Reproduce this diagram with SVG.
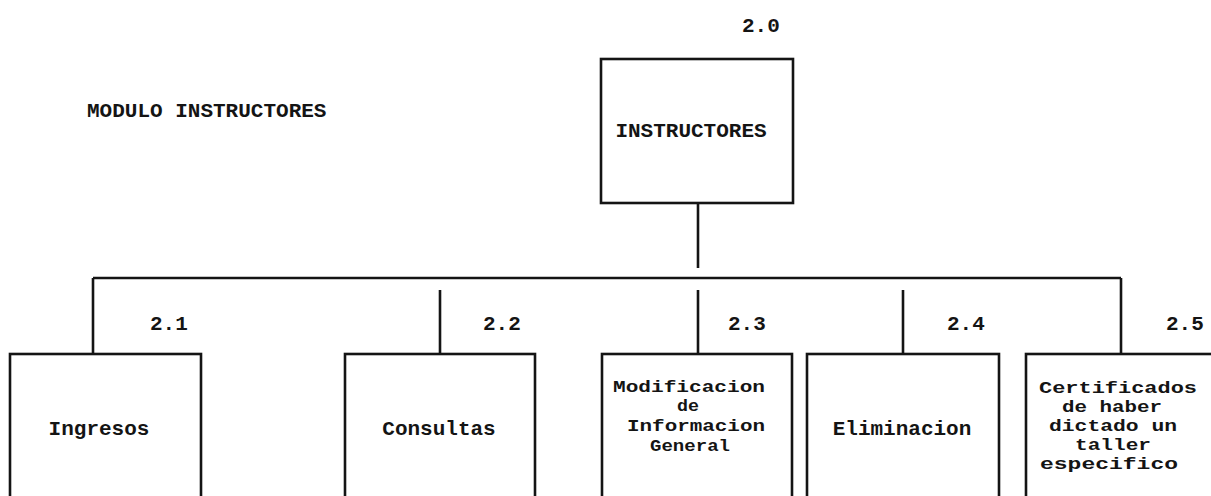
<svg xmlns="http://www.w3.org/2000/svg" width="1211" height="496" viewBox="0 0 1211 496">
<style>
.bg{fill:#ffffff}
.box{fill:none;stroke:#141414;stroke-width:2.6}
.ln{fill:none;stroke:#141414;stroke-width:2.6}
text{font-family:"Liberation Mono","DejaVu Sans Mono",monospace;font-size:21px;font-weight:bold;fill:#141414}
.c{text-anchor:middle}
.m{font-size:17px}
</style>
<rect class="bg" x="0" y="0" width="1211" height="496"/>
<text x="87" y="117">MODULO INSTRUCTORES</text>
<g id="connectors">
<line class="ln" x1="698" y1="203" x2="698" y2="268"/>
<line class="ln" x1="93" y1="278" x2="1121" y2="278"/>
<line class="ln" x1="93" y1="278" x2="93" y2="354"/>
<line class="ln" x1="440" y1="290" x2="440" y2="354"/>
<line class="ln" x1="698" y1="290" x2="698" y2="354"/>
<line class="ln" x1="903" y1="290" x2="903" y2="354"/>
<line class="ln" x1="1121" y1="278" x2="1121" y2="354"/>
</g>
<g id="n20">
<text x="742" y="32">2.0</text>
<rect class="box" x="601" y="59" width="192" height="144"/>
<text class="c" x="691" y="137">INSTRUCTORES</text>
</g>
<g id="n21">
<text x="150" y="330">2.1</text>
<rect class="box" x="10" y="354" width="191" height="160"/>
<text class="c" x="99" y="435">Ingresos</text>
</g>
<g id="n22">
<text x="483" y="330">2.2</text>
<rect class="box" x="345" y="354" width="190" height="160"/>
<text class="c" x="439" y="435">Consultas</text>
</g>
<g id="n23">
<text x="728" y="330">2.3</text>
<rect class="box" x="602" y="354" width="190" height="160"/>
<text class="c m" x="689" y="392" textLength="152" lengthAdjust="spacingAndGlyphs">Modificacion</text>
<text class="c m" x="688" y="411" textLength="22" lengthAdjust="spacingAndGlyphs">de</text>
<text class="c m" x="696" y="431" textLength="138" lengthAdjust="spacingAndGlyphs">Informacion</text>
<text class="c m" x="690" y="451" textLength="80" lengthAdjust="spacingAndGlyphs">General</text>
</g>
<g id="n24">
<text x="947" y="330">2.4</text>
<rect class="box" x="807" y="354" width="192" height="160"/>
<text class="c" x="902" y="435">Eliminacion</text>
</g>
<g id="n25">
<text x="1166" y="330">2.5</text>
<rect class="box" x="1026" y="354" width="210" height="160"/>
<text class="c m" x="1118" y="393" textLength="158" lengthAdjust="spacingAndGlyphs">Certificados</text>
<text class="c m" x="1112" y="412" textLength="100" lengthAdjust="spacingAndGlyphs">de haber</text>
<text class="c m" x="1113" y="431" textLength="128" lengthAdjust="spacingAndGlyphs">dictado un</text>
<text class="c m" x="1113" y="450" textLength="76" lengthAdjust="spacingAndGlyphs">taller</text>
<text class="c m" x="1109" y="469" textLength="138" lengthAdjust="spacingAndGlyphs">especifico</text>
</g>
</svg>
